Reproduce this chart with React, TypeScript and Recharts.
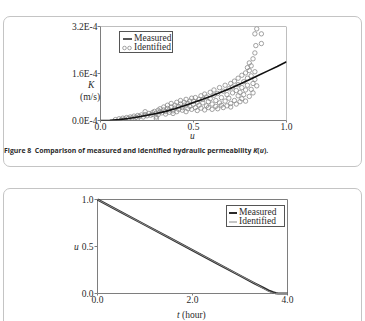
import { ScatterChart, Scatter, XAxis, YAxis } from 'recharts'

// Figure 8: hydraulic permeability K(u), values in units of 1E-4 m/s
const uTicks = [0, 0.5, 1]
const kTicks = [0, 1.6, 3.2]

const measuredU = [0, 0.05, 0.1, 0.15, 0.2, 0.25, 0.3, 0.35, 0.4, 0.45, 0.5, 0.55, 0.6, 0.65, 0.7, 0.75, 0.8, 0.85, 0.9, 0.95, 1.0]
const measuredK = [0, 0.01, 0.03, 0.07, 0.12, 0.18, 0.24, 0.31, 0.4, 0.5, 0.61, 0.72, 0.84, 0.97, 1.1, 1.24, 1.39, 1.54, 1.69, 1.84, 2.0]

const identifiedU = [
  0.08, 0.1, 0.11, 0.12, 0.13, 0.14, 0.15, 0.16, 0.17, 0.18, 0.19, 0.2, 0.2,
  0.21, 0.22, 0.23, 0.24, 0.24, 0.25, 0.26, 0.27, 0.28, 0.28, 0.29, 0.3, 0.3, 0.3, 0.31, 0.31,
  0.32, 0.32, 0.33, 0.34, 0.34, 0.35, 0.35, 0.36, 0.36, 0.37, 0.37, 0.38, 0.38, 0.39, 0.39, 0.4, 0.4,
  0.41, 0.41, 0.42, 0.42, 0.43, 0.43, 0.44, 0.44, 0.45, 0.45, 0.46, 0.46, 0.47, 0.47, 0.48, 0.48, 0.49, 0.49, 0.5, 0.5,
  0.51, 0.51, 0.52, 0.52, 0.53, 0.53, 0.54, 0.54, 0.55, 0.55, 0.56, 0.56, 0.57, 0.57, 0.58, 0.58, 0.59, 0.59, 0.6, 0.6,
  0.61, 0.61, 0.62, 0.62, 0.63, 0.63, 0.64, 0.64, 0.65, 0.65, 0.66, 0.66, 0.67, 0.67, 0.68, 0.68, 0.69, 0.69, 0.7, 0.7, 0.7,
  0.71, 0.71, 0.72, 0.72, 0.73, 0.73, 0.74, 0.74, 0.74, 0.75, 0.75, 0.76, 0.76, 0.76, 0.77, 0.77, 0.78, 0.78, 0.78, 0.79, 0.79, 0.79, 0.8, 0.8,
  0.8, 0.81, 0.81, 0.81, 0.82, 0.82, 0.82, 0.83, 0.83, 0.83, 0.84, 0.835, 0.83, 0.865, 0.865, 0.84,
]
const identifiedK = [
  0.03, 0.06, 0.02, 0.08, 0.05, 0.1, 0.07, 0.12, 0.09, 0.15, 0.11, 0.17, 0.08,
  0.14, 0.19, 0.12, 0.3, 0.2, 0.16, 0.24, 0.18, 0.27, 0.21, 0.31, 0.06, 0.12, 0.25, 0.35, 0.2,
  0.3, 0.4, 0.26, 0.36, 0.46, 0.22, 0.31, 0.41, 0.52, 0.28, 0.36, 0.46, 0.58, 0.33, 0.24, 0.42, 0.52,
  0.62, 0.3, 0.38, 0.48, 0.56, 0.68, 0.35, 0.44, 0.52, 0.62, 0.72, 0.3, 0.4, 0.58, 0.66, 0.48, 0.76, 0.38, 0.55, 0.66,
  0.44, 0.78, 0.34, 0.62, 0.72, 0.52, 0.84, 0.42, 0.6, 0.72, 0.36, 0.9, 0.5, 0.8, 0.64, 0.44, 0.96, 0.74, 0.56, 0.38,
  0.86, 1.04, 0.48, 0.68, 0.92, 0.4, 0.6, 1.12, 0.78, 0.52, 1.0, 0.44, 1.2, 0.66, 0.88, 0.5, 1.08, 0.76, 1.26, 0.58, 0.46,
  0.94, 1.14, 0.68, 1.34, 0.56, 1.02, 0.84, 1.44, 1.22, 0.64, 0.96, 1.54, 1.12, 0.74, 1.32, 0.88, 1.62, 1.04, 0.66, 1.8, 1.44, 1.2, 0.82, 1.7,
  1.96, 1.52, 1.06, 1.86, 1.26, 2.1, 0.94, 1.4, 1.66, 2.3, 1.18, 2.55, 2.95, 2.95, 2.62, 3.12,
]

// second panel: u versus time
const tTicks = [0, 2, 4]
const stateTicks = [0, 0.5, 1]
const timeH = [0, 0.5, 1, 1.5, 2, 2.5, 3, 3.3, 3.5, 3.6, 3.7, 3.75, 3.8, 4.0]
const measuredState = [1.0, 0.865, 0.73, 0.595, 0.46, 0.325, 0.19, 0.11, 0.058, 0.032, 0.012, 0.004, 0, 0]
const identifiedState = [1.0, 0.865, 0.73, 0.597, 0.462, 0.327, 0.192, 0.112, 0.052, 0.024, 0.004, 0, 0, 0]

const serif = '"Liberation Serif", "Times New Roman", serif'
const axisGray = '#7e7e7e'
const tickStyle = { fill: '#2a2a2a', fontSize: 9.5, fontFamily: serif }

const kCurve = measuredU.map((u, i) => ({ u, k: measuredK[i] }))
const kPoints = identifiedU.map((u, i) => ({ u, k: identifiedK[i] }))
const measuredRun = timeH.map((t, i) => ({ t, s: measuredState[i] }))
const identifiedRun = timeH.map((t, i) => ({ t, s: identifiedState[i] }))

// top and right edges of each plot box, traced through the axis corners
const kFrame = [
  { u: uTicks[0], k: kTicks[2] },
  { u: uTicks[2], k: kTicks[2] },
  { u: uTicks[2], k: kTicks[0] },
]
const runFrame = [
  { t: tTicks[0], s: stateTicks[2] },
  { t: tTicks[2], s: stateTicks[2] },
  { t: tTicks[2], s: stateTicks[0] },
]

const noDot = () => <g />
const openCircle = (p: any) => (
  <circle cx={p.cx} cy={p.cy} r={2.2} fill="none" stroke="#8a8a8a" strokeWidth={0.8} />
)

const panel: React.CSSProperties = {
  position: 'absolute',
  left: 3,
  width: 357,
  border: '1px solid #c4c4c4',
  borderRadius: 7,
  background: '#fff',
}

const txt = (left: number, top: number, extra: React.CSSProperties = {}): React.CSSProperties => ({
  position: 'absolute',
  left,
  top,
  fontFamily: serif,
  fontSize: 9.5,
  color: '#2a2a2a',
  lineHeight: '10px',
  whiteSpace: 'nowrap',
  ...extra,
})

// half-pixel margins keep the 1px axis and frame lines crisp
function PermeabilityChart() {
  return (
    <ScatterChart width={365} height={160} margin={{ top: 26.5, right: 78.5, bottom: 38.5, left: 99.5 }}>
      <XAxis
        type="number"
        dataKey="u"
        domain={[0, 1]}
        ticks={uTicks}
        tickFormatter={(v: number) => v.toFixed(1)}
        tick={tickStyle}
        tickSize={2}
        tickMargin={1}
        height={1}
        stroke={axisGray}
        allowDataOverflow
      />
      <YAxis
        type="number"
        dataKey="k"
        domain={[0, 3.2]}
        ticks={kTicks}
        tickFormatter={(v: number) => `${v.toFixed(1)}E-4`}
        tick={tickStyle}
        tickSize={3}
        tickMargin={0}
        width={1}
        stroke={axisGray}
        allowDataOverflow
      />
      <Scatter data={kFrame} shape={noDot} line={{ stroke: axisGray, strokeWidth: 1 }} isAnimationActive={false} />
      <Scatter data={kPoints} shape={openCircle} isAnimationActive={false} />
      <Scatter data={kCurve} shape={noDot} line={{ stroke: '#111', strokeWidth: 1.6 }} isAnimationActive={false} />
    </ScatterChart>
  )
}

function DryingChart() {
  return (
    <ScatterChart width={365} height={161} margin={{ top: 39.5, right: 77.5, bottom: 26.5, left: 96.5 }}>
      <XAxis
        type="number"
        dataKey="t"
        domain={[0, 4]}
        ticks={tTicks}
        tickFormatter={(v: number) => v.toFixed(1)}
        tick={tickStyle}
        tickSize={2}
        tickMargin={1}
        height={1}
        stroke={axisGray}
      />
      <YAxis
        type="number"
        dataKey="s"
        domain={[0, 1]}
        ticks={stateTicks}
        tickFormatter={(v: number) => v.toFixed(1)}
        tick={tickStyle}
        tickSize={3}
        tickMargin={1}
        width={1}
        stroke={axisGray}
      />
      <Scatter data={runFrame} shape={noDot} line={{ stroke: axisGray, strokeWidth: 1 }} isAnimationActive={false} />
      <Scatter data={measuredRun} shape={noDot} line={{ stroke: '#2a2a2a', strokeWidth: 2.2 }} isAnimationActive={false} />
      <Scatter data={identifiedRun} shape={noDot} line={{ stroke: '#8a8a8a', strokeWidth: 1 }} isAnimationActive={false} />
    </ScatterChart>
  )
}

export default function App() {
  return (
    <div style={{ position: 'absolute', left: 0, top: 0, width: 365, height: 321, background: '#fff', overflow: 'hidden' }}>
      <div style={{ ...panel, top: 16, height: 149 }} />
      <div style={{ ...panel, top: 188, height: 160 }} />

      <div style={{ position: 'absolute', left: 0, top: 0 }}>
        <PermeabilityChart />
      </div>
      <div style={txt(88, 80, { fontStyle: 'italic' })}>K</div>
      <div style={txt(80, 92)}>(m/s)</div>
      <div style={txt(190, 131, { fontStyle: 'italic' })}>u</div>
      <div style={{ ...txt(119, 31), width: 52, height: 20, border: '1px solid #555', background: '#fff' }}>
        <div style={{ position: 'absolute', left: 2, top: 1 }}>
          <svg width={10} height={8} style={{ verticalAlign: 'middle' }}>
            <line x1={1} y1={4} x2={10} y2={4} stroke="#111" strokeWidth={1.4} />
          </svg>
          <span style={{ marginLeft: 2 }}>Measured</span>
        </div>
        <div style={{ position: 'absolute', left: 2, top: 10 }}>
          <svg width={10} height={8} style={{ verticalAlign: 'middle' }}>
            <circle cx={2.5} cy={4} r={1.8} fill="none" stroke="#8a8a8a" strokeWidth={0.8} />
            <circle cx={7.5} cy={4} r={1.8} fill="none" stroke="#8a8a8a" strokeWidth={0.8} />
          </svg>
          <span style={{ marginLeft: 2 }}>Identified</span>
        </div>
      </div>
      <div
        style={{
          position: 'absolute',
          left: 4,
          top: 146,
          fontFamily: '"Open Sans", "Noto Sans", sans-serif',
          fontWeight: 700,
          fontSize: 6.9,
          color: '#2b2b2b',
          whiteSpace: 'nowrap',
        }}
      >
        Figure 8&nbsp;&nbsp;Comparison of measured and identified hydraulic permeability <i>K</i>(<i>u</i>).
      </div>

      <div style={{ position: 'absolute', left: 0, top: 160 }}>
        <DryingChart />
      </div>
      <div style={txt(74, 242, { fontStyle: 'italic' })}>u</div>
      <div style={txt(177, 310)}>
        <i>t</i> (hour)
      </div>
      <div style={{ ...txt(226, 205), width: 57, height: 20, border: '1px solid #555', background: '#fff' }}>
        <div style={{ position: 'absolute', left: 2, top: 1 }}>
          <svg width={8} height={8} style={{ verticalAlign: 'middle' }}>
            <line x1={0} y1={4} x2={8} y2={4} stroke="#2a2a2a" strokeWidth={2} />
          </svg>
          <span style={{ marginLeft: 2 }}>Measured</span>
        </div>
        <div style={{ position: 'absolute', left: 2, top: 10 }}>
          <svg width={8} height={8} style={{ verticalAlign: 'middle' }}>
            <line x1={0} y1={4} x2={8} y2={4} stroke="#8a8a8a" strokeWidth={1} />
          </svg>
          <span style={{ marginLeft: 2 }}>Identified</span>
        </div>
      </div>
    </div>
  )
}
